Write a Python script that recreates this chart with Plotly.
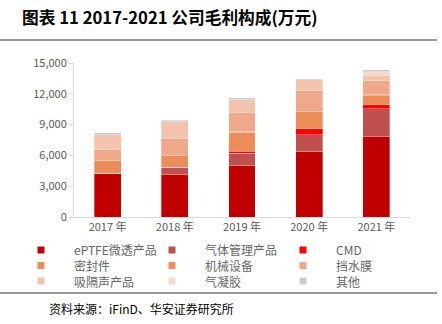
import plotly.graph_objects as go

years = ["2017 年", "2018 年", "2019 年", "2020 年", "2021 年"]
series_names = ["ePTFE微透产品", "气体管理产品", "CMD", "密封件", "机械设备",
                "挡水膜", "吸隔声产品", "气凝胶", "其他"]
eptfe = [4240, 4140, 5040, 6410, 7870]
gas = [0, 710, 1170, 1620, 2670]
cmd = [0, 0, 200, 560, 410]
seal = [1260, 1140, 1850, 1650, 880]
machinery = [0, 0, 100, 0, 70]
waterproof = [1070, 1620, 1840, 2080, 1420]
sound = [1460, 1660, 1240, 1070, 460]
aerogel = [0, 0, 0, 0, 390]
other = [170, 160, 160, 100, 160]
series_values = [eptfe, gas, cmd, seal, machinery, waterproof, sound, aerogel, other]
colors = ["#C00000", "#C0504D", "#FF0000", "#EC8C58", "#F58E5E",
          "#F0A88A", "#F4C3AE", "#F8D6CB", "#CCCCCC"]
yticks = [0, 3000, 6000, 9000, 12000, 15000]

W, H = 442, 324
L, R, T, B = 74, 32, 63, 107
PW, PH = W - L - R, H - T - B

def px_x(px):
    return (px - L) / PW

def px_y(py):
    return (H - B - py) / PH

FONT = "Noto Sans CJK SC, Liberation Sans, Arial, sans-serif"

fig = go.Figure()
for name, vals, c in zip(series_names, series_values, colors):
    fig.add_trace(go.Bar(x=years, y=vals, name=name, marker_color=c,
                         marker_line=dict(color="rgba(255,255,255,0.6)", width=0.5),
                         showlegend=False))

shapes = []
annotations = []
# manual legend
for i, (name, c) in enumerate(zip(series_names, colors)):
    row, col = divmod(i, 3)
    cx = 41 + 131 * col
    cy = 250 + 15.5 * row
    shapes.append(dict(type="rect", xref="paper", yref="paper",
                       x0=px_x(cx - 3.5), x1=px_x(cx + 3.5),
                       y0=px_y(cy - 3.5), y1=px_y(cy + 3.5),
                       fillcolor=c, line=dict(width=0)))
    annotations.append(dict(text=name, xref="paper", yref="paper",
                            x=px_x(cx + 31), y=px_y(cy), xanchor="left", yanchor="middle",
                            showarrow=False, font=dict(size=12, color="#666666", family=FONT)))

# separator lines
for ly in (40, 293):
    shapes.append(dict(type="line", xref="paper", yref="paper",
                       x0=px_x(0), x1=px_x(437), y0=px_y(ly), y1=px_y(ly),
                       line=dict(color="#333333", width=1.2)))

annotations.append(dict(text="资料来源：iFinD、华安证券研究所", xref="paper", yref="paper",
                        x=px_x(47), y=px_y(308), xanchor="left", yanchor="middle",
                        showarrow=False, font=dict(size=12, color="#000000", family=FONT)))

fig.update_layout(
    width=W, height=H,
    margin=dict(l=L, r=R, t=T, b=B),
    barmode="stack", bargap=0.6,
    plot_bgcolor="white", paper_bgcolor="white",
    font=dict(family=FONT, size=11, color="#595959"),
    title=dict(text="<b>图表 11 2017-2021 公司毛利构成(万元)</b>",
               x=22 / W, xanchor="left", xref="container",
               y=1 - 18 / H, yanchor="middle", yref="container",
               font=dict(size=16.7, color="#000000", family=FONT)),
    shapes=shapes, annotations=annotations,
    xaxis=dict(showline=True, linecolor="#D9D9D9", linewidth=1, ticks="",
               tickfont=dict(size=11, color="#595959"), fixedrange=True),
    yaxis=dict(range=[0, 15000], tickvals=yticks, tickformat=",",
               showline=True, linecolor="#D9D9D9", linewidth=1,
               ticks="outside", ticklen=4, tickcolor="#D9D9D9",
               showgrid=False, zeroline=False,
               tickfont=dict(size=11, color="#595959")),
)

fig.write_html("out.html")
